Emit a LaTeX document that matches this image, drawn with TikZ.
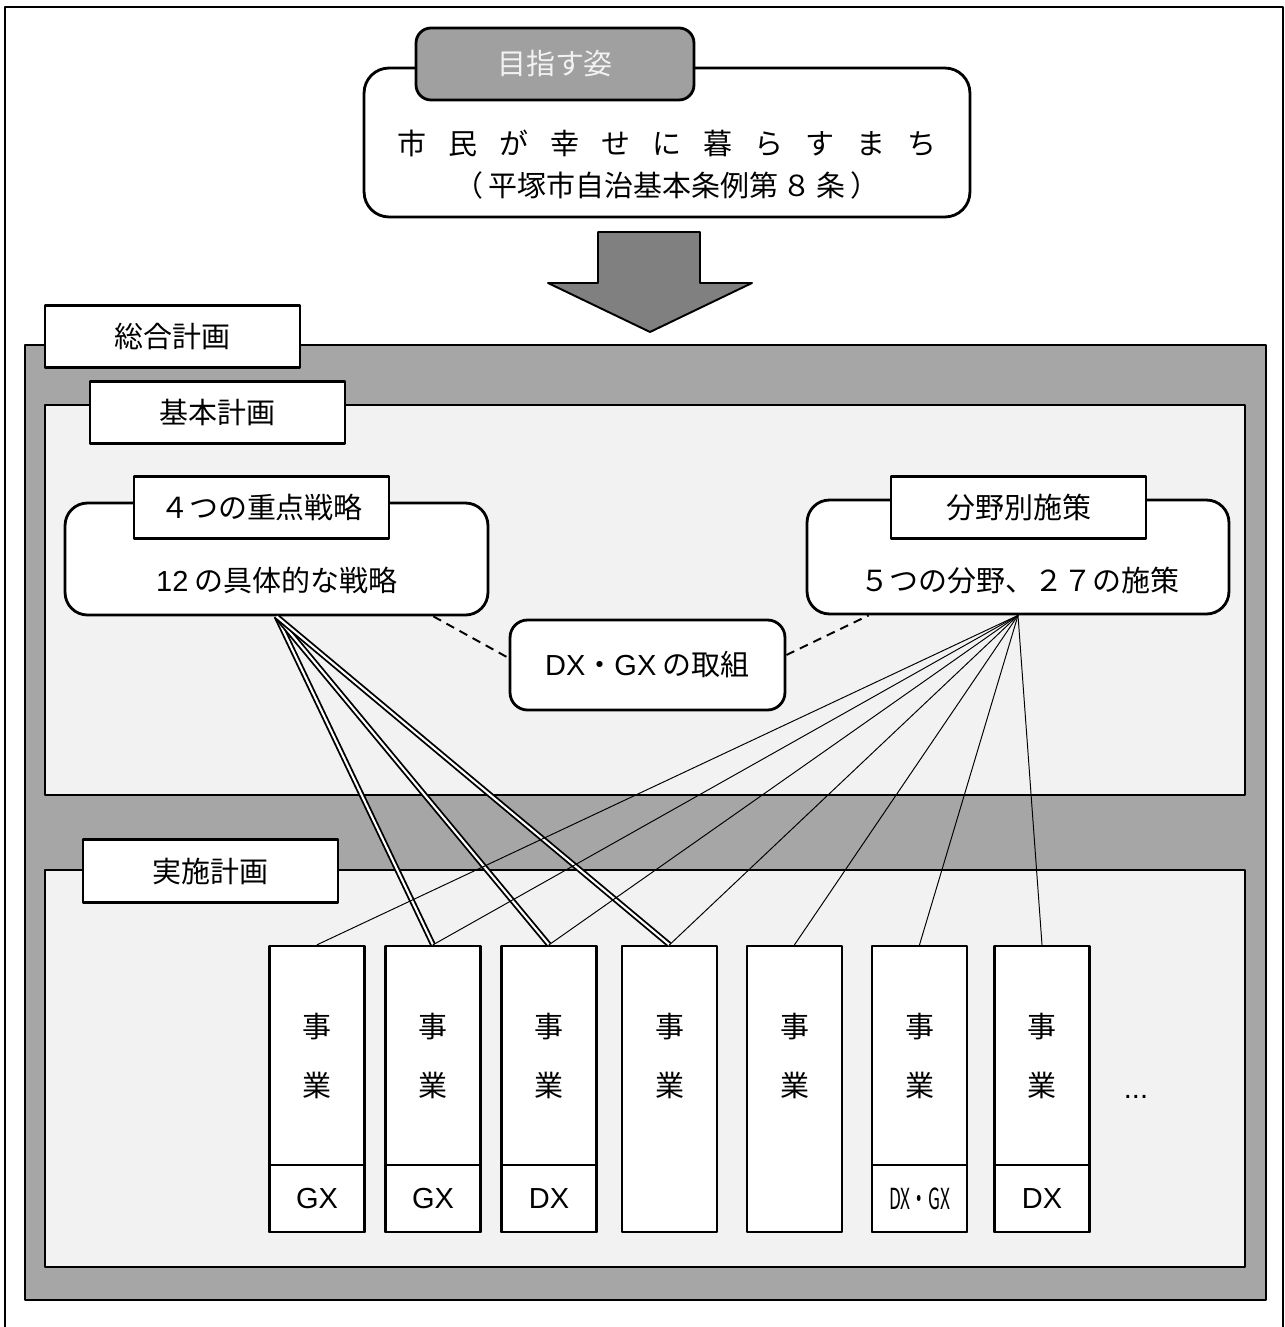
\documentclass[tikz,border=0pt]{standalone}
\usepackage{fontspec}
\setmainfont{Noto Sans CJK JP}
\newfontfamily\latinfont{Liberation Sans}
\usetikzlibrary{positioning}
\definecolor{plangray}{RGB}{166,166,166}
\definecolor{planlight}{RGB}{242,242,242}
\definecolor{plandark}{RGB}{128,128,128}
\definecolor{goalgray}{RGB}{160,160,160}
\newcommand{\mgap}{\hspace{.76em}}

\begin{document}
\begin{tikzpicture}[x=0.02cm,y=-0.02cm,line cap=round,line join=round,
  font=\fontsize{16.5}{20}\selectfont,
  boxline/.style={draw=black,line width=1.6pt},
  tab/.style={boxline,fill=white,minimum width=5.1cm,minimum height=1.25cm,inner sep=0pt},
  roundbox/.style={boxline,fill=white,rounded corners=0.45cm,inner sep=0pt},
  jigyo/.style={boxline,line width=1.4pt,fill=white,minimum width=1.9cm,minimum height=5.72cm,inner sep=0pt},
  tagbox/.style={boxline,line width=1.4pt,fill=white,minimum width=1.9cm,minimum height=1.34cm,inner sep=0pt},
  link/.style={line width=0.55pt},
  dbl/.style={draw=black,double=white,line width=1.05pt,double distance=1.2pt,line cap=butt},
  dashlink/.style={dash pattern=on 5pt off 3.5pt,line width=1.1pt,line cap=butt}]
 \useasboundingbox (0,0) rectangle (1284,1327);
 % outer frame, open at the bottom
 \draw[line width=1.1pt] (5,1327) -- (5,7) -- (1283,7) -- (1283,1327);
 % 総合計画
 \draw[boxline,fill=plangray] (25,345) rectangle (1266,1300);
 \draw[boxline,fill=planlight] (45,405) rectangle (1245,795);
 \draw[boxline,fill=planlight] (45,870) rectangle (1245,1267);
 \node[tab] (sogo) at (172.5,336.5) {総合計画};
 \node[tab] (kihon) at (217.5,412.5) {基本計画};
 \node[tab] (jisshi) at (210.5,871) {実施計画};

 % 目指す姿
 \node[roundbox,rounded corners=0.5cm,minimum width=12.12cm,minimum height=2.98cm] (goal) at (667,142.5) {};
 \node[boxline,fill=goalgray,rounded corners=0.3cm,minimum width=5.56cm,minimum height=1.44cm,
  inner sep=0pt,text=planlight] (goaltab) at (555,64) {目指す姿};
 \node (goaltxt) at (667,143) {市\mgap 民\mgap が\mgap 幸\mgap せ\mgap に\mgap 暮\mgap ら\mgap す\mgap ま\mgap ち};
 \node (goalref) at (667,185) {（\,平塚市自治基本条例第\,８\,条\,）};
 \draw[line width=1.1pt,fill=plandark] (598,232) -- (700,232) -- (700,283) -- (752,283)
  -- (650,332) -- (548,283) -- (598,283) -- cycle;

 % 基本計画
 \node[roundbox,minimum width=8.46cm,minimum height=2.24cm] (strat) at (276.5,559) {};
 \node[tab] (strattab) at (261.5,507.5) {４つの重点戦略};
 \node (strattxt) at (277,580) {{\latinfont 12} の具体的な戦略};
 \node[roundbox,minimum width=8.44cm,minimum height=2.28cm] (field) at (1018,557) {};
 \node[tab] (fieldtab) at (1018.5,507.5) {分野別施策};
 \node (fieldtxt) at (1020,580) {５つの分野、２７の施策};
 \node[roundbox,rounded corners=0.35cm,minimum width=5.5cm,minimum height=1.8cm] (dxgx) at (647.5,665)
  {{\latinfont DX}・{\latinfont GX} の取組};
 \draw[dashlink] ([xshift=-1.12cm]strat.south east) -- ([yshift=0.14cm]dxgx.west);
 \draw[dashlink] ([yshift=0.2cm]dxgx.east) -- ([xshift=1.26cm]field.south west);

 % 実施計画
 \foreach \x [count=\i] in {317,433,549,669.5,794.5,919.5,1042}{
  \node[jigyo] (j\i) at (\x,1089) {};
  \node[align=center,font=\fontsize{16.5}{34}\selectfont] (jt\i) at (\x,1056) {事\\業};
 }
 \foreach \x/\t [count=\i] in {317/GX,433/GX,549/DX}
  \node[tagbox] (tag\i) at (\x,1198.5) {\latinfont \t};
 \node[tagbox] (tag6) at (919.5,1198.5) {\scalebox{0.6}[1]{DX・GX}};
 \node[tagbox] (tag7) at (1042,1198.5) {\latinfont DX};
 \node (more) at (1136,1097) {\latinfont ...};

 \foreach \i in {2,3,4}
  \draw[dbl] (strat.south) -- (j\i.north);
 \foreach \i in {1,...,7}
  \draw[link] (field.south) -- (j\i.north);
\end{tikzpicture}
\end{document}
